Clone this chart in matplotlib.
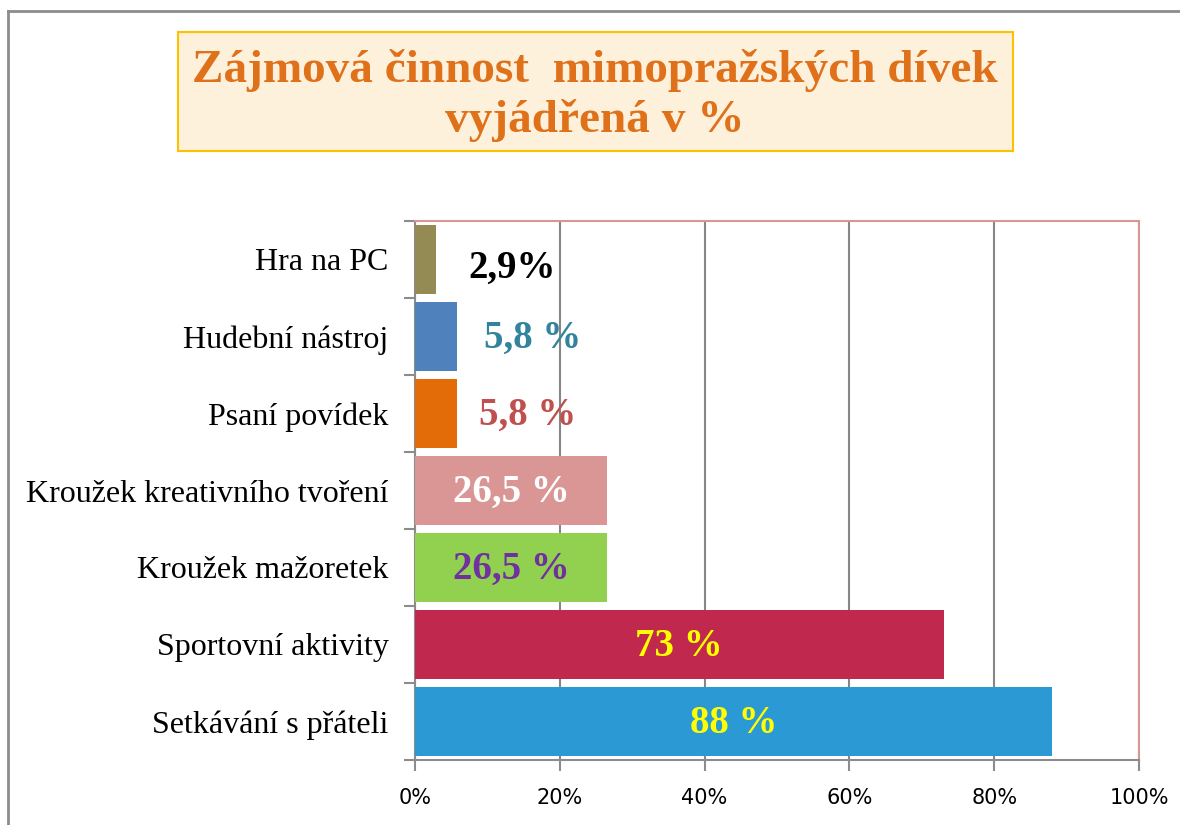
import numpy as np
import matplotlib.pyplot as plt
from matplotlib.patches import Rectangle
from matplotlib.lines import Line2D

categories = ['Hra na PC', 'Hudební nástroj', 'Psaní povídek',
              'Kroužek kreativního tvoření', 'Kroužek mažoretek',
              'Sportovní aktivity', 'Setkávání s přáteli']
values = [2.9, 5.8, 5.8, 26.5, 26.5, 73, 88]
value_labels = ['2,9%', '5,8 %', '5,8 %', '26,5 %', '26,5 %', '73 %', '88 %']
xticks = [0, 20, 40, 60, 80, 100]
xtick_labels = ['0%', '20%', '40%', '60%', '80%', '100%']

bar_colors = ['#948a54', '#4f81bd', '#e36c09', '#d99694', '#92d050', '#c0284e', '#2a99d4']
label_colors = ['black', '#31849b', '#c0504d', 'white', '#7030a0', '#ffff00', '#ffff00']
label_offset = [10.5, 10.5, 9.8, None, None, None, None]

serif = ['Liberation Serif', 'DejaVu Serif']

fig = plt.figure(figsize=(11.8, 8.25), dpi=100)

# outer frame
fig.add_artist(Line2D([8/1180, 1.0], [1 - 11/825, 1 - 11/825], color='#8c8c8c', lw=2))
fig.add_artist(Line2D([8/1180, 8/1180], [0, 1 - 11/825], color='#8c8c8c', lw=2))

# title box
fig.add_artist(Rectangle((178/1180, 1 - 151/825), 835/1180, 119/825,
                         facecolor='#fdf1db', edgecolor='#ffc000', lw=1.5))
fig.text(595/1180, 1 - 70/825, 'Zájmová činnost  mimopražských dívek',
         ha='center', va='center', fontsize=34, fontweight='bold',
         color='#e0711b', family=serif)
fig.text(595/1180, 1 - 120/825, 'vyjádřená v %',
         ha='center', va='center', fontsize=34, fontweight='bold',
         color='#e0711b', family=serif)

ax = fig.add_axes([415/1180, 65/825, 724/1180, 539/825])
y = np.arange(len(categories))[::-1]
ax.barh(y, values, height=0.9, color=bar_colors, zorder=3)
ax.set_xlim(0, 100)
ax.set_ylim(-0.5, len(categories) - 0.5)

for i in range(len(values)):
    if label_offset[i] is None:
        lx = values[i] / 2
    else:
        lx = values[i] + label_offset[i]
    dy = -0.12 if i == 0 else -0.03
    ax.text(lx, y[i] + dy, value_labels[i], ha='center', va='center',
            fontsize=28, fontweight='bold', color=label_colors[i],
            family=serif, zorder=4)

ax.set_xticks(xticks)
ax.set_xticklabels(xtick_labels, family=['Liberation Sans Narrow', 'DejaVu Sans'], fontsize=15)
ax.set_yticks(y)
ax.set_yticklabels(categories, family=serif, fontsize=23)
ax.tick_params(axis='y', length=0, pad=19)
ax.set_yticks(np.arange(len(categories) + 1) - 0.5, minor=True)
ax.tick_params(axis='y', which='minor', length=8, width=1.5, color='#8c8c8c')
ax.tick_params(axis='x', length=8, width=1.5, color='#8c8c8c', pad=12)

ax.grid(axis='x', color='#868686', lw=1.5, zorder=1)
for s in ['left', 'bottom']:
    ax.spines[s].set_color('#8c8c8c')
    ax.spines[s].set_linewidth(1.5)
for s in ['top', 'right']:
    ax.spines[s].set_color('#d99694')
    ax.spines[s].set_linewidth(1.5)

fig.savefig('out.png', dpi=100)
